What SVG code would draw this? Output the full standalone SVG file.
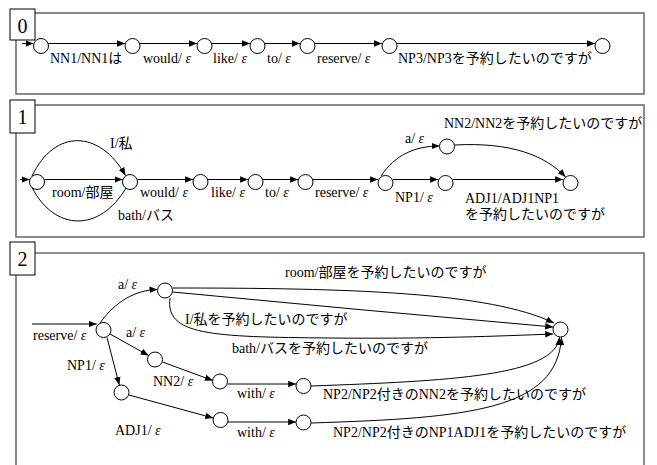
<svg xmlns="http://www.w3.org/2000/svg" width="657" height="465" viewBox="0 0 657 465">
<style>
.frame{fill:none;stroke:#6e6e6e;stroke-width:1.6}
.box{fill:#fff;stroke:#000;stroke-width:1}
.num{font-family:"Liberation Serif",serif;font-size:20px;fill:#000}
.n{fill:#fff;stroke:#000;stroke-width:1}
.e{fill:none;stroke:#000;stroke-width:1}
.ea{fill:none;stroke:#000;stroke-width:1;marker-end:url(#a)}
text.t{font-family:"Liberation Serif","Noto Sans CJK JP",serif;font-size:14px;fill:#000}
.ep{font-style:italic}
</style>
<defs>
<marker id="a" viewBox="0 0 10 10" refX="10" refY="5" markerWidth="8" markerHeight="8" markerUnits="userSpaceOnUse" orient="auto"><path d="M0,1 L10,5 L0,9z" fill="#000"/></marker>
</defs>
<rect width="657" height="465" fill="#fff"/>
<!-- Panel frames -->
<g id="panel0-frame">
<rect class="frame" x="16" y="13" width="628" height="81"/>
<rect class="box" x="10" y="9" width="25" height="31"/>
<text class="num" x="22.5" y="33" text-anchor="middle">0</text>
</g>
<g id="panel1-frame">
<rect class="frame" x="16" y="105" width="628" height="132"/>
<rect class="box" x="10" y="100" width="25" height="33"/>
<text class="num" x="22.5" y="124" text-anchor="middle">1</text>
</g>
<g id="panel2-frame">
<path class="frame" d="M16,466 L16,253 L644,253 L644,466"/>
<rect class="box" x="10" y="242" width="25" height="33"/>
<text class="num" x="22.5" y="266" text-anchor="middle">2</text>
</g>

<!-- Connectors -->
<g id="connectors">
<!-- panel 0 -->
<path class="ea" d="M22,43.5 L33.5,43.5"/>
<path class="ea" d="M48.5,43.5 L125,43.5"/>
<path class="ea" d="M140,43.5 L197,43.5"/>
<path class="ea" d="M212,43.5 L250,43.5"/>
<path class="ea" d="M265,43.5 L300,43.5"/>
<path class="ea" d="M315,43.5 L382,43.5"/>
<path class="ea" d="M397,43.5 L595,43.5"/>
<!-- panel 1 -->
<path class="ea" d="M20,179.5 L29.8,179.5"/>
<path class="ea" d="M44.5,179.5 L122.6,179.5"/>
<path class="ea" d="M137.5,179.5 L193.1,179.5"/>
<path class="ea" d="M208,179.5 L248.1,179.5"/>
<path class="ea" d="M263,179.5 L298.1,179.5"/>
<path class="ea" d="M313,179.5 L378.1,179.5"/>
<path class="ea" d="M393,179.5 L438.1,179.5"/>
<path class="ea" d="M453,179.5 L563.1,179.5"/>
<path class="ea" d="M32,176 C55,128 100,130 125.5,175.5"/>
<path class="e" d="M32,187.5 C55,232 100,232 126,188"/>
<path class="ea" d="M381,176 C395,155 415,146 439.5,146"/>
<path class="ea" d="M455,145 C510,142 545,155 565.5,177"/>
<!-- panel 2 -->
<path class="ea" d="M32,324 L96.8,324"/>
<path class="ea" d="M100,323 C115,302 135,290 157.5,289.5"/>
<path class="ea" d="M110,334 L148.6,355.5"/>
<path class="ea" d="M107,337.5 L119.3,385"/>
<path class="ea" d="M162.5,362 L212.8,380.5"/>
<path class="ea" d="M129,395 L213.2,418"/>
<path class="ea" d="M227.5,384 L296.2,384"/>
<path class="ea" d="M228,422 L296.2,422"/>
<path class="ea" d="M172.5,288 C350,288 490,292 554,323"/>
<path class="ea" d="M172.5,292 Q360,310 553.2,327"/>
<path class="ea" d="M170,298 C165,335 210,337 330,338 C430,339 500,336 553.2,334"/>
<path class="ea" d="M311,386 C450,381 555,376 559.5,337.3"/>
<path class="ea" d="M311,423 C470,418 557,410 561.5,337.3"/>
</g>

<!-- Panel 0 nodes -->
<g id="p0-n0"><circle class="n" cx="41" cy="46" r="7.5"/></g>
<g id="p0-n1"><circle class="n" cx="132.5" cy="46" r="7.5"/></g>
<g id="p0-n2"><circle class="n" cx="204.5" cy="46" r="7.5"/></g>
<g id="p0-n3"><circle class="n" cx="257.5" cy="46" r="7.5"/></g>
<g id="p0-n4"><circle class="n" cx="307.5" cy="46" r="7.5"/></g>
<g id="p0-n5"><circle class="n" cx="389.5" cy="46" r="7.5"/></g>
<g id="p0-n6"><circle class="n" cx="602.5" cy="46" r="7.5"/></g>

<!-- Panel 1 nodes -->
<g id="p1-n0"><circle class="n" cx="37" cy="182" r="7.5"/></g>
<g id="p1-n1"><circle class="n" cx="130" cy="182" r="7.5"/></g>
<g id="p1-n2"><circle class="n" cx="200.5" cy="182" r="7.5"/></g>
<g id="p1-n3"><circle class="n" cx="255.5" cy="182" r="7.5"/></g>
<g id="p1-n4"><circle class="n" cx="305.5" cy="182" r="7.5"/></g>
<g id="p1-n5"><circle class="n" cx="385.5" cy="183" r="7.5"/></g>
<g id="p1-n6"><circle class="n" cx="447" cy="146.5" r="7.5"/></g>
<g id="p1-n7"><circle class="n" cx="445.5" cy="183" r="7.5"/></g>
<g id="p1-n8"><circle class="n" cx="570.5" cy="183" r="7.5"/></g>

<!-- Panel 2 nodes -->
<g id="p2-n1"><circle class="n" cx="103.5" cy="330" r="7.5"/></g>
<g id="p2-n2"><circle class="n" cx="165" cy="290.5" r="7.5"/></g>
<g id="p2-n3"><circle class="n" cx="155" cy="359.5" r="7.5"/></g>
<g id="p2-n4"><circle class="n" cx="220" cy="381.5" r="7.5"/></g>
<g id="p2-n5"><circle class="n" cx="121.5" cy="392.5" r="7.5"/></g>
<g id="p2-n6"><circle class="n" cx="303.5" cy="386" r="7.5"/></g>
<g id="p2-n7"><circle class="n" cx="220.5" cy="420" r="7.5"/></g>
<g id="p2-n8"><circle class="n" cx="303.5" cy="422.5" r="7.5"/></g>
<g id="p2-final"><circle class="n" cx="560.5" cy="329.5" r="7.5"/></g>

<!-- Labels -->
<g id="labels">
<text class="t" x="50" y="63">NN1/NN1は</text>
<text class="t" x="143" y="63">would/ <tspan class="ep">ε</tspan></text>
<text class="t" x="213" y="63">like/ <tspan class="ep">ε</tspan></text>
<text class="t" x="267" y="63">to/ <tspan class="ep">ε</tspan></text>
<text class="t" x="317" y="63">reserve/ <tspan class="ep">ε</tspan></text>
<text class="t" x="398" y="63">NP3/NP3を予約したいのですが</text>

<text class="t" x="110" y="148">I/私</text>
<text class="t" x="52" y="197">room/部屋</text>
<text class="t" x="118" y="220">bath/バス</text>
<text class="t" x="140" y="197">would/ <tspan class="ep">ε</tspan></text>
<text class="t" x="211" y="197">like/ <tspan class="ep">ε</tspan></text>
<text class="t" x="265" y="197">to/ <tspan class="ep">ε</tspan></text>
<text class="t" x="315" y="197">reserve/ <tspan class="ep">ε</tspan></text>
<text class="t" x="405" y="143">a/ <tspan class="ep">ε</tspan></text>
<text class="t" x="395" y="202">NP1/ <tspan class="ep">ε</tspan></text>
<text class="t" x="444" y="128">NN2/NN2を予約したいのですが</text>
<text class="t" x="465" y="203">ADJ1/ADJ1NP1</text>
<text class="t" x="465" y="219">を予約したいのですが</text>

<text class="t" x="285" y="277">room/部屋を予約したいのですが</text>
<text class="t" x="185" y="324">I/私を予約したいのですが</text>
<text class="t" x="232" y="353">bath/バスを予約したいのですが</text>
<text class="t" x="118" y="289">a/ <tspan class="ep">ε</tspan></text>
<text class="t" x="126" y="337">a/ <tspan class="ep">ε</tspan></text>
<text class="t" x="33" y="340">reserve/ <tspan class="ep">ε</tspan></text>
<text class="t" x="67" y="370">NP1/ <tspan class="ep">ε</tspan></text>
<text class="t" x="153" y="386">NN2/ <tspan class="ep">ε</tspan></text>
<text class="t" x="237" y="398">with/ <tspan class="ep">ε</tspan></text>
<text class="t" x="115" y="435">ADJ1/ <tspan class="ep">ε</tspan></text>
<text class="t" x="237" y="437">with/ <tspan class="ep">ε</tspan></text>
<text class="t" x="323" y="399">NP2/NP2付きのNN2を予約したいのですが</text>
<text class="t" x="333" y="437">NP2/NP2付きのNP1ADJ1を予約したいのですが</text>
</g>
</svg>
